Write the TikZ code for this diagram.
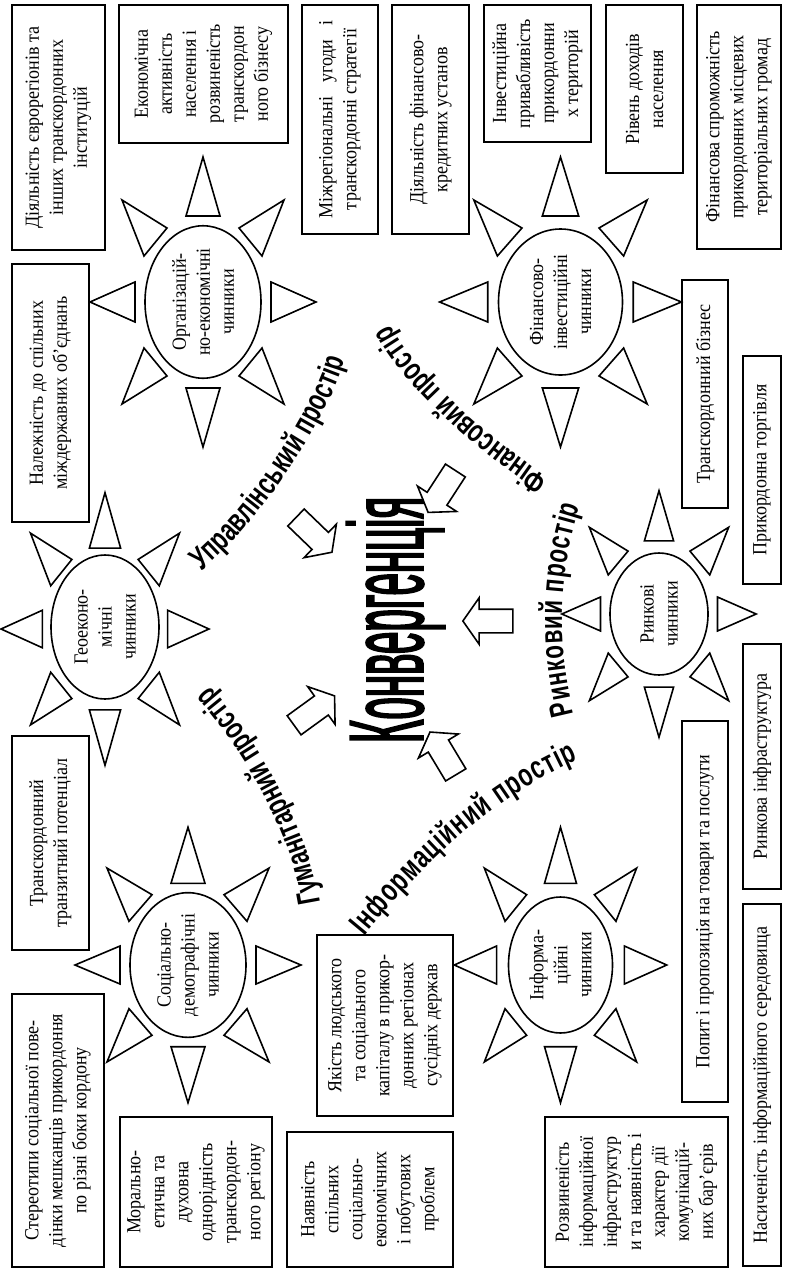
\documentclass[tikz,border=0pt]{standalone}
\usepackage{fontspec}
\usepackage{graphicx}
\setmainfont{Liberation Serif}[FakeStretch=0.9]
\newfontfamily\labfont{Liberation Sans}[FakeStretch=0.7, UprightFont=* Bold]
\newfontfamily\titlefont{Liberation Sans}[FakeStretch=0.38, FakeBold=1.5]
\usetikzlibrary{shapes.geometric,shapes.arrows,decorations.text}
\newcommand\lblfont{\labfont\fontsize{16}{16}\selectfont}
\newcommand\sunrays{%
 \draw[ray] (-17,-86) -- (17,-86) -- (0,-145) -- cycle;
 \draw[ray] (-17,86) -- (17,86) -- (0,145) -- cycle;
 \draw[ray] (-68,-20) -- (-68,20) -- (-113,0) -- cycle;
 \draw[ray] (68,-20) -- (68,20) -- (113,0) -- cycle;
 \draw[ray] (-36,-74) -- (-59,-46) -- (-81,-102) -- cycle;
 \draw[ray] (36,-74) -- (59,-46) -- (81,-102) -- cycle;
 \draw[ray] (-36,74) -- (-59,46) -- (-81,102) -- cycle;
 \draw[ray] (36,74) -- (59,46) -- (81,102) -- cycle;
}
\tikzset{
  box/.style={draw, line width=0.8pt, rotate=90, inner sep=1pt, align=center,
    font=\fontsize{10}{12}\selectfont},
  sunc/.style={draw, ellipse, line width=0.8pt, rotate=90, inner sep=0pt, align=center,
    font=\fontsize{10}{12}\selectfont},
  ray/.style={draw, line width=0.8pt, line join=miter},
  barrow/.style={draw, line width=0.8pt, single arrow, inner xsep=0pt, inner ysep=5.5pt,
    single arrow head extend=5.75pt, single arrow tip angle=110, minimum height=25pt},
  lbl/.style={decorate, decoration={text along path, text align={fit to path},
    text={|\lblfont|#1}}}
}
\begin{document}
\begin{tikzpicture}[x=0.5pt,y=-0.5pt]
\useasboundingbox (0,0) rectangle (784,1270);

% boxes
\node[box, minimum width=122.5pt, minimum height=46.5pt] (b1) at (58.5,127.5) {Діяльність єврорегіонів та\\інших транскордонних\\інституцій};
\node[box, minimum width=69pt, minimum height=84.5pt] (b2) at (203.5,74) {Економічна\\активність\\населення і\\розвиненість\\транскордон\\ного бізнесу};
\node[box, minimum width=114.5pt, minimum height=38pt] (b3) at (340,119.5) {Міжрегіональні\hspace{0.7em}угоди\hspace{0.7em}і\\транскордонні стратегії};
\node[box, minimum width=114.5pt, minimum height=38.5pt] (b4) at (430.5,119.5) {Діяльність фінансово-\\кредитних установ};
\node[box, minimum width=68.5pt, minimum height=53.5pt] (b5) at (537.5,73.5) {Інвестиційна\\привабливість\\прикордонни\\х територій};
\node[box, minimum width=84pt, minimum height=38.5pt] (b6) at (644.5,89) {Рівень доходів\\населення};
\node[box, minimum width=122pt, minimum height=42pt] (b7) at (739,127) {Фінансова спроможність\\прикордонних місцевих\\територіальних громад};
\node[box, minimum width=129pt, minimum height=38.5pt] (b8) at (50.5,393) {Належність до спільних\\міждержавних об’єднань};
\node[box, minimum width=114pt, minimum height=23pt] (b9) at (705,394) {Транскордонний бізнес};
\node[box, minimum width=114pt, minimum height=19pt] (b10) at (762,470) {Прикордонна торгівля};
\node[box, minimum width=122.5pt, minimum height=19pt] (b11) at (762,766.5) {Ринкова інфраструктура};
\node[box, minimum width=190.5pt, minimum height=23pt] (b12) at (705,911.5) {Попит і пропозиція на товари та послуги};
\node[box, minimum width=181pt, minimum height=19pt] (b13) at (762,1085) {Насиченість інформаційного середовища};
\node[box, minimum width=75pt, minimum height=91.5pt] (b14) at (636.5,1192) {Розвиненість\\інформаційної\\інфраструктур\\и та наявність і\\характер дії\\комунікацій-\\них бар’єрів};
\node[box, minimum width=90.5pt, minimum height=68pt] (b15) at (385,1025.5) {Якість людського\\та соціального\\капіталу в прикор-\\донних регіонах\\сусідніх держав};
\node[box, minimum width=67.5pt, minimum height=83pt] (b16) at (370,1199.5) {Наявність\\спільних\\соціально-\\економічних\\і побутових\\проблем};
\node[box, minimum width=75pt, minimum height=76pt] (b17) at (196,1192) {Морально-\\етична та\\духовна\\однорідність\\транскордон-\\ного регіону};
\node[box, minimum width=136.5pt, minimum height=46pt] (b18) at (58,1130.5) {Стереотипи соціальної пове-\\дінки мешканців прикордоння\\по різні боки кордону};
\node[box, minimum width=107pt, minimum height=38.5pt] (b19) at (50.5,843) {Транскордонний\\транзитний потенціал};

% suns
\begin{scope}[shift={(203,302)}] \sunrays \end{scope}
\node[sunc, minimum width=73pt, minimum height=58pt] (s1) at (203,302) {Організацій-\\но-економічні\\чинники};
\begin{scope}[shift={(560.5,302)}, xscale=1.07] \sunrays \end{scope}
\node[sunc, minimum width=73pt, minimum height=62pt] (s2) at (560.5,302) {Фінансово-\\інвестиційні\\чинники};
\begin{scope}[shift={(105,629)}, xscale=0.92, yscale=0.94] \sunrays \end{scope}
\node[sunc, minimum width=72pt, minimum height=54pt] (s3) at (105,627) {Геоеконо-\\мічні\\чинники};
\begin{scope}[shift={(659,614)}, xscale=0.86, yscale=0.85] \sunrays \end{scope}
\node[sunc, minimum width=61pt, minimum height=49pt] (s4) at (659,614) {Ринкові\\чинники};
\begin{scope}[shift={(188,965)}, yscale=0.95] \sunrays \end{scope}
\node[sunc, minimum width=68pt, minimum height=58pt] (s5) at (188,965) {Соціально-\\демографічні\\чинники};
\begin{scope}[shift={(560.5,965)}, xscale=0.94, yscale=0.95] \sunrays \end{scope}
\node[sunc, minimum width=68pt, minimum height=52pt] (s6) at (560.5,965) {Інформа-\\ційні\\чинники};

% title
\node[rotate=90, anchor=base, inner sep=0pt, font=\titlefont\fontsize{53}{53}\selectfont] (conv) at (423,620) {Конвергенція};

% block arrows
\node[barrow, rotate=-44] (a1) at (311,532) {};
\node[barrow, rotate=-123] (a2) at (444,488) {};
\node[barrow, rotate=180] (a3) at (492,621) {};
\node[barrow, rotate=121] (a4) at (445,757) {};
\node[barrow, rotate=36] (a5) at (311,713) {};

% curved labels
\path[lbl={Управлінський простір}] (201,571) .. controls (258,525) and (327,422) .. (345,360);
\path[lbl={Фінансовий простір}] (549,478) .. controls (488,438) and (417,375) .. (392,328);
\path[lbl={Ринковий простір}] (574,714) .. controls (558,650) and (556,580) .. (580,506);
\path[lbl={Інформаційний простір}] (364,936) .. controls (412,878) and (482,802) .. (578,760);
\path[lbl={Гуманітарний простір}] (320,903) .. controls (312,850) and (275,760) .. (210,686);
\end{tikzpicture}
\end{document}
